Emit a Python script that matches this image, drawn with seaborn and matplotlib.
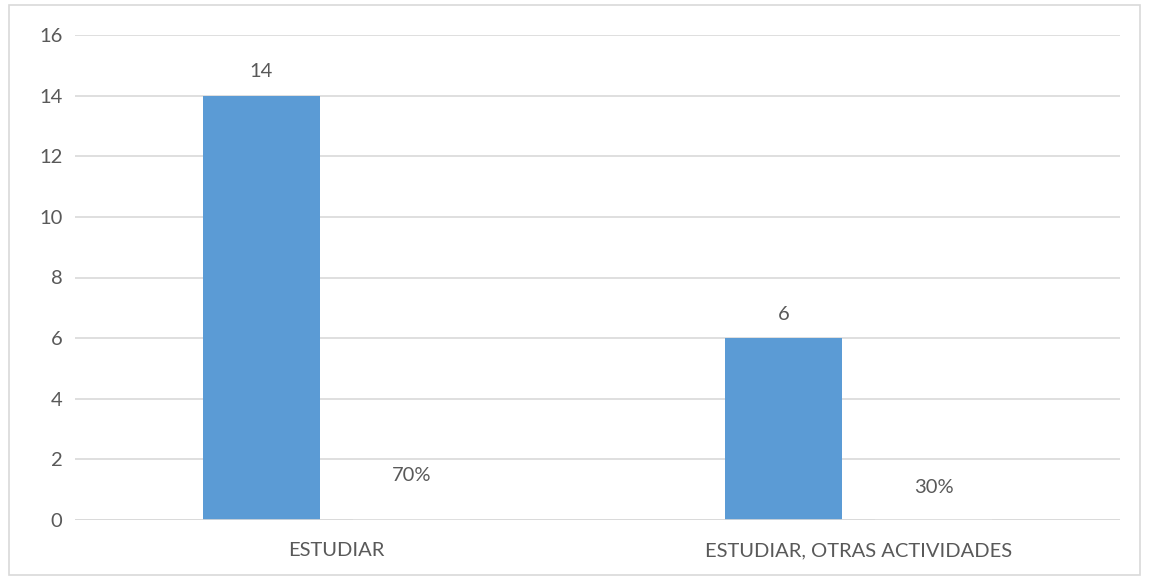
import matplotlib
matplotlib.use("Agg")
import matplotlib.pyplot as plt
import seaborn as sns
import pandas as pd
from matplotlib.patches import Rectangle

categories = ["ESTUDIAR", "ESTUDIAR, OTRAS ACTIVIDADES"]
counts = [14, 6]
shares = [0.7, 0.3]
share_labels = ["70%", "30%"]
yticks = [0, 2, 4, 6, 8, 10, 12, 14, 16]

df = pd.DataFrame({
    "cat": categories * 2,
    "serie": ["Frecuencia"] * 2 + ["Porcentaje"] * 2,
    "valor": counts + shares,
})

sns.set_theme(style="white")
plt.rcParams["font.family"] = ["Lato", "DejaVu Sans"]
txt = "#595959"
fs = 14.5

fig = plt.figure(figsize=(11.49, 5.79), dpi=100)
ax = fig.add_axes([75 / 1149, 1 - 520 / 579, (1120 - 75) / 1149, (520 - 35) / 579])

sns.barplot(data=df, x="cat", y="valor", hue="serie", order=categories,
            hue_order=["Frecuencia", "Porcentaje"],
            palette=["#5B9BD5", "#FFFFFF"], width=0.574, gap=0.22,
            saturation=1, legend=False, ax=ax, zorder=3, linewidth=0)

ax.set_ylim(0, 16)
ax.set_xlim(-0.5, 1.5)
ax.set_yticks(yticks)
ax.set_yticklabels([str(t) for t in yticks])
ax.grid(axis="y", color="#D9D9D9", linewidth=1.2, zorder=0)
ax.grid(axis="x", visible=False)
for s in ax.spines.values():
    s.set_visible(False)
ax.axhline(0, color="#D9D9D9", linewidth=1.2, zorder=4)
ax.set_xlabel("")
ax.set_ylabel("")
ax.tick_params(axis="both", length=0, labelsize=fs, colors=txt)
ax.tick_params(axis="x", pad=16)
ax.tick_params(axis="y", pad=9)

c0, c1 = ax.containers[0], ax.containers[1]
ax.bar_label(c0, labels=[str(v) for v in counts], padding=11, fontsize=fs, color=txt)
ax.bar_label(c1, labels=share_labels, padding=11, fontsize=fs, color=txt)

fig.patches.append(Rectangle((9 / 1149, 4 / 579), (1140 - 9) / 1149, (575 - 5) / 579,
                             transform=fig.transFigure, fill=False,
                             edgecolor="#D9D9D9", linewidth=1.2))

fig.savefig("out.png", dpi=100, facecolor="white")
